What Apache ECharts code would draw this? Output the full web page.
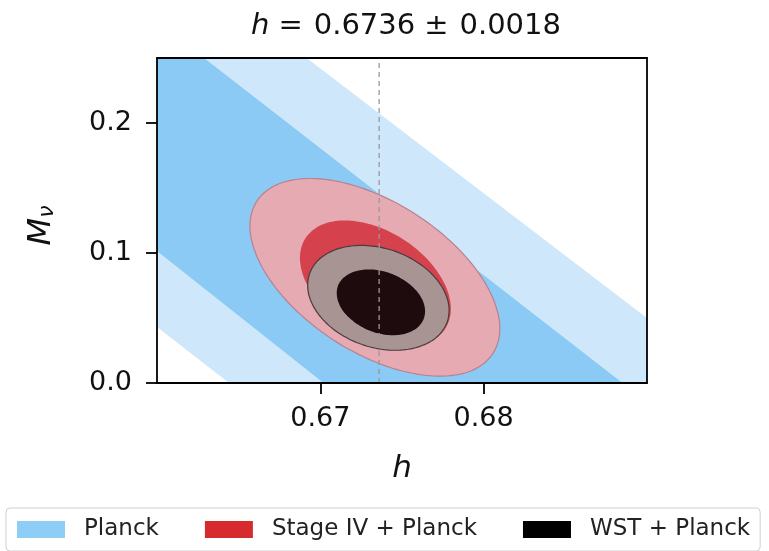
<!DOCTYPE html>
<html>
<head>
<meta charset="utf-8">
<script src="https://cdn.jsdelivr.net/npm/echarts@6/dist/echarts.min.js"></script>
<style>
  html, body { margin: 0; padding: 0; background: #fff; }
  #chart { width: 769px; height: 551px; }
</style>
</head>
<body>
<div id="chart"></div>
<script>
// ticks and reference value
const hTicks = [0.67, 0.68]
const mnuTicks = [0.0, 0.1, 0.2]
const hBest = 0.6736

// Planck bands [h, M_nu]
const planck95 = [[0.66, 0.25], [0.66916, 0.25], [0.69, 0.05], [0.69, 0], [0.66442, 0], [0.66, 0.0431]]
const planck68 = [[0.66, 0.25], [0.66288, 0.25], [0.6885, 0], [0.6702, 0], [0.66, 0.1015]]

// Stage IV + Planck contours
const stage95 = [
  [0.68056, 0.0226], [0.67905, 0.0085], [0.67667, 0.0056], [0.67378, 0.0141],
  [0.67082, 0.0329], [0.66825, 0.0591], [0.66646, 0.0885], [0.6657, 0.117],
  [0.66612, 0.14], [0.66763, 0.154], [0.67001, 0.157], [0.6729, 0.1484],
  [0.67585, 0.1297], [0.67843, 0.1035], [0.68022, 0.0741], [0.68098, 0.0456]
]
const stage68 = [
  [0.67765, 0.0419], [0.67666, 0.0317], [0.67517, 0.0284], [0.6734, 0.0324],
  [0.67163, 0.0431], [0.67013, 0.059], [0.66911, 0.0776], [0.66875, 0.096],
  [0.66909, 0.1114], [0.67008, 0.1217], [0.67157, 0.125], [0.67334, 0.121],
  [0.67511, 0.1102], [0.67661, 0.0944], [0.67763, 0.0757], [0.67799, 0.0574]
]

// WST + Planck contours
const wst95 = [
  [0.67777, 0.0471], [0.67707, 0.0347], [0.67582, 0.0271], [0.67424, 0.0253],
  [0.67255, 0.0296], [0.67101, 0.0394], [0.66987, 0.0532], [0.66928, 0.0688],
  [0.66934, 0.084], [0.67004, 0.0964], [0.67129, 0.104], [0.67287, 0.1057],
  [0.67456, 0.1014], [0.67609, 0.0916], [0.67724, 0.0778], [0.67783, 0.0622]
]
const wst68 = [
  [0.67632, 0.0491], [0.67586, 0.0418], [0.67506, 0.0375], [0.67407, 0.037],
  [0.67301, 0.0403], [0.67207, 0.047], [0.67137, 0.0558], [0.67103, 0.0657],
  [0.67109, 0.0751], [0.67156, 0.0824], [0.67236, 0.0866], [0.67335, 0.0871],
  [0.6744, 0.0838], [0.67535, 0.0771], [0.67605, 0.0683], [0.67639, 0.0584]
]

const FONT = 'DejaVu Sans'

// closed catmull-rom through the read contour points, in pixel space
function smoothClosed(pts, steps) {
  const out = []
  const n = pts.length
  for (let i = 0; i < n; i++) {
    const p0 = pts[(i - 1 + n) % n], p1 = pts[i], p2 = pts[(i + 1) % n], p3 = pts[(i + 2) % n]
    for (let s = 0; s < steps; s++) {
      const t = s / steps, t2 = t * t, t3 = t2 * t
      out.push([0, 1].map(k => 0.5 * ((2 * p1[k]) + (-p0[k] + p2[k]) * t +
        (2 * p0[k] - 5 * p1[k] + 4 * p2[k] - p3[k]) * t2 +
        (-p0[k] + 3 * p1[k] - 3 * p2[k] + p3[k]) * t3)))
    }
  }
  return out
}

function contourSeries(name, color, polys, styles, curved) {
  return {
    name: name,
    type: 'custom',
    coordinateSystem: 'cartesian2d',
    silent: true,
    itemStyle: { color: color },
    data: polys.map((p, i) => [i]),
    renderItem: (params, api) => {
      const i = params.dataIndex
      let pts = polys[i].map(p => api.coord(p))
      if (curved) pts = smoothClosed(pts, 10)
      return {
        type: 'polygon',
        shape: { points: pts },
        style: styles[i]
      }
    }
  }
}

const chart = echarts.init(document.getElementById('chart'), null, { renderer: 'canvas' })

const spineOnly = {
  axisLine: { show: true, onZero: false, lineStyle: { color: '#000', width: 1.8 } },
  axisTick: { show: false },
  axisLabel: { show: false },
  splitLine: { show: false },
  z: 10
}

chart.setOption({
  animation: false,
  backgroundColor: '#fff',
  title: {
    text: '{i|h}{op|=}0.6736{op|±}0.0018',
    left: 401,
    textAlign: 'center',
    top: 7,
    textStyle: {
      fontFamily: FONT,
      fontSize: 29,
      fontWeight: 'normal',
      color: '#111',
      rich: {
        i: { fontFamily: FONT, fontSize: 29, fontStyle: 'italic', color: '#111' },
        op: { fontFamily: FONT, fontSize: 29, color: '#111', padding: [0, 11, 0, 9] }
      }
    }
  },
  grid: { left: 157, right: 122, top: 58, bottom: 168 },
  legend: {
    data: ['Planck', 'Stage IV + Planck', 'WST + Planck'],
    left: 6,
    top: 508,
    icon: 'rect',
    itemWidth: 48,
    itemHeight: 17,
    itemGap: 46,
    padding: [10, 10, 10, 11],
    borderColor: '#cfcfcf',
    borderWidth: 1,
    borderRadius: 4,
    textStyle: { fontFamily: FONT, fontSize: 23, color: '#222', padding: [0, 0, 0, 14] }
  },
  xAxis: [
    {
      type: 'value',
      min: 0.66,
      max: 0.69,
      name: 'h',
      nameLocation: 'middle',
      nameGap: 70,
      nameTextStyle: { fontFamily: FONT, fontSize: 31, fontStyle: 'italic', color: '#111' },
      axisLine: { show: true, onZero: false, lineStyle: { color: '#000', width: 1.8 } },
      axisTick: { show: true, inside: false, length: 11, lineStyle: { color: '#000', width: 1.8 }, customValues: hTicks },
      axisLabel: {
        fontFamily: FONT, fontSize: 27, color: '#111', margin: 22,
        customValues: hTicks,
        formatter: v => v.toFixed(2)
      },
      splitLine: { show: false },
      z: 10
    },
    Object.assign({ type: 'value', min: 0.66, max: 0.69, position: 'top' }, spineOnly)
  ],
  yAxis: [
    {
      type: 'value',
      min: 0,
      max: 0.25,
      name: '{m|M}{s|ν}',
      nameLocation: 'middle',
      nameRotate: 90,
      nameGap: 95,
      nameTextStyle: {
        fontFamily: FONT,
        color: '#111',
        padding: [0, 10, 0, 0],
        rich: {
          m: { fontFamily: FONT, fontSize: 32, fontStyle: 'italic', lineHeight: 36, verticalAlign: 'top', color: '#111' },
          s: { fontFamily: FONT, fontSize: 22, fontStyle: 'italic', lineHeight: 30, verticalAlign: 'top', padding: [10, 0, 0, 0], color: '#111' }
        }
      },
      axisLine: { show: true, onZero: false, lineStyle: { color: '#000', width: 1.8 } },
      axisTick: { show: true, inside: false, length: 11, lineStyle: { color: '#000', width: 1.8 }, customValues: mnuTicks },
      axisLabel: {
        fontFamily: FONT, fontSize: 27, color: '#111', margin: 25,
        customValues: mnuTicks,
        formatter: v => v.toFixed(1)
      },
      splitLine: { show: false },
      z: 10
    },
    Object.assign({ type: 'value', min: 0, max: 0.25, position: 'right' }, spineOnly)
  ],
  series: [
    contourSeries('Planck', '#8ecdf5', [planck95, planck68], [
      { fill: '#cfe7fa' },
      { fill: '#8acaf4' }
    ], false),
    contourSeries('Stage IV + Planck', '#d62a2f', [stage95, stage68], [
      { fill: '#e6aab2', stroke: '#b9808f', lineWidth: 1.2 },
      { fill: '#d5424e' }
    ], true),
    contourSeries('WST + Planck', '#000000', [wst95, wst68], [
      { fill: '#a99494', stroke: '#4a3a3c', lineWidth: 1.2 },
      { fill: '#1e0b0d' }
    ], true),
    {
      name: 'h best',
      type: 'line',
      silent: true,
      showSymbol: false,
      data: [[hBest, 0], [hBest, 0.25]],
      lineStyle: { color: '#999', width: 1.3, type: [5, 4] },
      z: 5
    }
  ]
})
</script>
</body>
</html>
